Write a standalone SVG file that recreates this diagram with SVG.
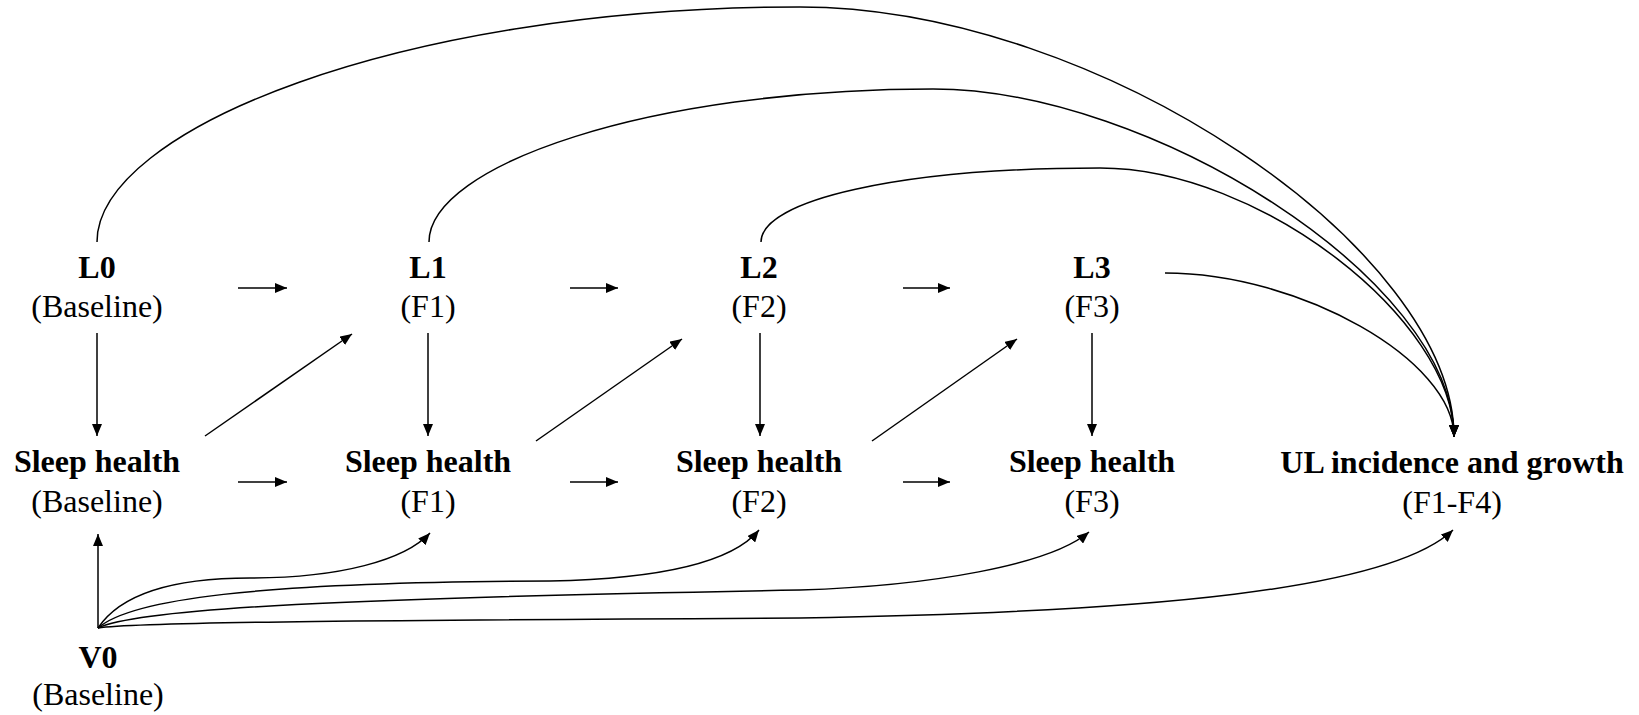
<svg xmlns="http://www.w3.org/2000/svg" width="1639" height="715" viewBox="0 0 1639 715">
<style>
text{font-family:'Liberation Serif','Times New Roman','DejaVu Serif',serif;font-size:32px;fill:#000;text-anchor:middle}
.b{font-weight:bold}
.c{fill:none;stroke:#000;stroke-width:1.5;marker-end:url(#ah)}
</style>
<defs>
<marker id="ah" markerUnits="userSpaceOnUse" markerWidth="12" markerHeight="10" refX="12" refY="5" orient="auto">
<path d="M0,0 L12,5 L0,10 z" fill="#000"/>
</marker>
</defs>
<rect width="1639" height="715" fill="#fff"/>
<g id="connectors">
<line class="c" x1="238" y1="288" x2="287" y2="288"/>
<line class="c" x1="570" y1="288" x2="618" y2="288"/>
<line class="c" x1="903" y1="288" x2="950" y2="288"/>
<line class="c" x1="238" y1="482" x2="287" y2="482"/>
<line class="c" x1="570" y1="482" x2="618" y2="482"/>
<line class="c" x1="903" y1="482" x2="950" y2="482"/>
<line class="c" x1="97" y1="333" x2="97" y2="436"/>
<line class="c" x1="428" y1="333" x2="428" y2="436"/>
<line class="c" x1="760" y1="333" x2="760" y2="436"/>
<line class="c" x1="1092" y1="333" x2="1092" y2="436"/>
<line class="c" x1="205" y1="436" x2="352" y2="334"/>
<line class="c" x1="536" y1="441" x2="682" y2="339"/>
<line class="c" x1="872" y1="441" x2="1017" y2="339"/>
<line class="c" x1="98" y1="628" x2="98" y2="534"/>
<path class="c" d="M98,628 C120,595 170,578 250,578 C340,578 405,560 430,533"/>
<path class="c" d="M98,628 C130,600 250,582 550,581 C650,579 730,565 759,530"/>
<path class="c" d="M98,628 C140,608 350,598 800,590 C930,586 1050,565 1089,532"/>
<path class="c" d="M98,628 C140,622 400,620 800,618 C1150,612 1390,590 1453,530"/>
<path class="c" d="M97,242 C97,130 400,7 800,7 C1100,7 1454,250 1454,437"/>
<path class="c" d="M429,242 C429,165 650,89 933,89 C1150,89 1454,280 1454,437"/>
<path class="c" d="M761,242 C761,200 900,168 1100,168 C1260,168 1454,320 1454,437"/>
<path class="c" d="M1165,273 C1300,273 1454,360 1454,437"/>
</g>
<g id="L0"><text class="b" x="97" y="278">L0</text><text x="97" y="317">(Baseline)</text></g>
<g id="L1"><text class="b" x="428" y="278">L1</text><text x="428" y="317">(F1)</text></g>
<g id="L2"><text class="b" x="759" y="278">L2</text><text x="759" y="317">(F2)</text></g>
<g id="L3"><text class="b" x="1092" y="278">L3</text><text x="1092" y="317">(F3)</text></g>
<g id="S0"><text class="b" x="97" y="472">Sleep health</text><text x="97" y="512">(Baseline)</text></g>
<g id="S1"><text class="b" x="428" y="472">Sleep health</text><text x="428" y="512">(F1)</text></g>
<g id="S2"><text class="b" x="759" y="472">Sleep health</text><text x="759" y="512">(F2)</text></g>
<g id="S3"><text class="b" x="1092" y="472">Sleep health</text><text x="1092" y="512">(F3)</text></g>
<g id="UL"><text class="b" x="1452" y="473">UL incidence and growth</text><text x="1452" y="513">(F1-F4)</text></g>
<g id="V0"><text class="b" x="98" y="668">V0</text><text x="98" y="705">(Baseline)</text></g>
</svg>
